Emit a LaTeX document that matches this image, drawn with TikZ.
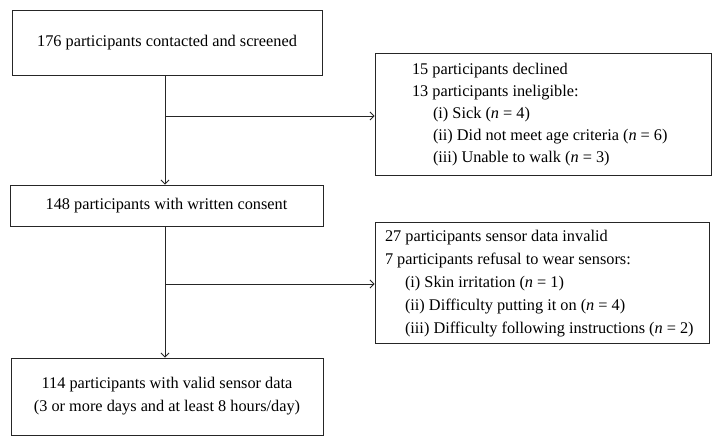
\documentclass[tikz,border=0pt]{standalone}
\usepackage{fontspec}
\setmainfont{Liberation Serif}
\usetikzlibrary{arrows.meta}
\begin{document}
\begin{tikzpicture}[x=1pt,y=-1pt,
  every node/.style={font=\fontsize{16.3}{22}\selectfont},
  box/.style={draw=black!85,line width=0.9pt,inner sep=0pt,align=center},
  conn/.style={line width=0.8pt,draw=black!85},
  arr/.style={conn,-{Straight Barb[length=4pt,width=8pt,line width=0.8pt]}}]
\useasboundingbox (0,0) rectangle (721,446);
\node[box,minimum width=310pt,minimum height=65pt] (n1) at (167,42.5) {176 participants contacted and screened};
\node[box,minimum width=313pt,minimum height=41pt] (n3) at (166.5,205.5) {148 participants with written consent};
\node[box,minimum width=312pt,minimum height=77pt,font=\fontsize{16.3}{23}\selectfont] (n5) at (167,396.5) {114 participants with valid sensor data\\(3 or more days and at least 8 hours/day)};
\node[box,minimum width=336pt,minimum height=122pt] (n2) at (543,114)
 {\makebox[262pt][l]{\begin{tabular}{@{}l@{}}
  15 participants declined\\
  13 participants ineligible:\\
  \hspace*{21pt}(i) Sick (\textit{n} = 4)\\
  \hspace*{21pt}(ii) Did not meet age criteria (\textit{n} = 6)\\
  \hspace*{21pt}(iii) Unable to walk (\textit{n} = 3)
  \end{tabular}}};
\node[box,minimum width=334pt,minimum height=121pt,font=\fontsize{16.3}{23}\selectfont] (n4) at (542,282.5)
 {\makebox[314pt][l]{\begin{tabular}{@{}l@{}}
  27 participants sensor data invalid\\
  7 participants refusal to wear sensors:\\
  \hspace*{20pt}(i) Skin irritation (\textit{n} = 1)\\
  \hspace*{20pt}(ii) Difficulty putting it on (\textit{n} = 4)\\
  \hspace*{20pt}(iii) Difficulty following instructions (\textit{n} = 2)
  \end{tabular}}};
\coordinate (j1) at (165,116);
\coordinate (j2) at (165,284);
\draw[arr] (j1 |- n1.south) -- (j1 |- n3.north);
\draw[arr] (j1) -- (j1 -| n2.west);
\draw[arr] (j2 |- n3.south) -- (j2 |- n5.north);
\draw[arr] (j2) -- (j2 -| n4.west);
\end{tikzpicture}
\end{document}
